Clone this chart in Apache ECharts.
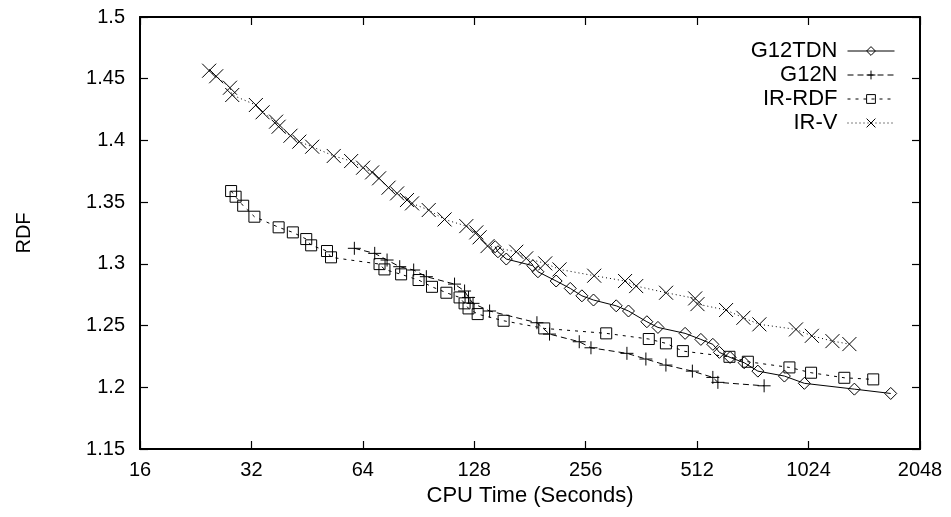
<!DOCTYPE html>
<html>
<head>
<meta charset="utf-8">
<script src="https://cdn.jsdelivr.net/npm/echarts@6/dist/echarts.min.js"></script>
<style>
  html, body { margin: 0; padding: 0; background: #fff; }
  #chart { width: 951px; height: 517px; }
</style>
</head>
<body>
<div id="chart"></div>
<script>
// values: [cpu seconds, RDF]
const g12tdn = [
  [145.8, 1.3139], [148.3, 1.3098], [156.2, 1.3039], [184.3, 1.2985], [190.2, 1.2936],
  [213, 1.2861], [232.5, 1.2801], [250, 1.2741], [268.7, 1.2707], [309.5, 1.266],
  [334, 1.2618], [374.5, 1.2531], [401.2, 1.2485], [475, 1.2437], [524, 1.2388],
  [564.5, 1.2348], [588, 1.2283], [628.5, 1.2242], [686, 1.2199], [747, 1.2131],
  [881, 1.2091], [997.6, 1.2032], [1361.6, 1.1985], [1707, 1.195]
];
const g12n = [
  [60.7, 1.3126], [68.9, 1.3085], [74.4, 1.3031], [80.5, 1.2977], [87.8, 1.295],
  [95.0, 1.2896], [113.2, 1.2836], [120.5, 1.278], [123.5, 1.2728], [127, 1.268],
  [140.8, 1.2618], [189, 1.2523], [204.4, 1.2431], [245.9, 1.2369], [264.5, 1.232],
  [330.8, 1.2275], [372.2, 1.2229], [421.6, 1.218], [497, 1.2131], [564.5, 1.208],
  [582.5, 1.204], [776.6, 1.2012]
];
const irRdf = [
  [28.2, 1.359], [29.0, 1.3544], [30.4, 1.3471], [32.6, 1.3382], [37.9, 1.3296],
  [41.4, 1.3255], [45.0, 1.3201], [46.4, 1.315], [51.2, 1.3104], [52.5, 1.3053],
  [71.0, 1.2998], [73.2, 1.2955], [81.2, 1.2915], [90.5, 1.2869], [98.4, 1.2814],
  [107.6, 1.2766], [116.8, 1.2728], [120.5, 1.268], [123.5, 1.2639], [130.7, 1.2593],
  [153.6, 1.2539], [197.8, 1.2477], [290.8, 1.2437], [379, 1.2391], [421.6, 1.2356],
  [468.5, 1.2293], [626, 1.2247], [701.8, 1.2207], [909, 1.2161], [1040, 1.2118],
  [1279, 1.2077], [1531, 1.2064]
];
const irV = [
  [24.6, 1.4565], [25.7, 1.452], [28.0, 1.4427], [28.4, 1.4368], [32.9, 1.4287],
  [34.3, 1.4228], [37.3, 1.4152], [37.9, 1.4111], [40.8, 1.4038], [43.1, 1.399],
  [46.7, 1.3949], [53.4, 1.3874], [59.5, 1.3833], [64.1, 1.3779], [67.8, 1.3741],
  [70.8, 1.3693], [75.1, 1.3617], [79.2, 1.3571], [84.2, 1.3517], [86.9, 1.349],
  [96.4, 1.3436], [106.4, 1.336], [121.8, 1.3306], [129.6, 1.3255], [132.3, 1.3215],
  [139, 1.3144], [166.2, 1.3098], [176.8, 1.3045], [199, 1.3004], [217.5, 1.2955],
  [269.9, 1.2904], [327, 1.2861], [350.4, 1.282], [422, 1.2766], [505.8, 1.272],
  [513, 1.2674], [613, 1.2626], [682.7, 1.2563], [754, 1.251], [947, 1.2469],
  [1045, 1.2417], [1188, 1.2374], [1320, 1.235]
];
const seriesNames = ['G12TDN', 'G12N', 'IR-RDF', 'IR-V'];

const FONT = 'Liberation Sans';
const chart = echarts.init(document.getElementById('chart'));

const axisLine = { show: true, lineStyle: { color: '#000', width: 2 } };
const tick = { show: true, inside: true, length: 8, lineStyle: { color: '#000', width: 1.2 } };
const labelStyle = { color: '#000', fontSize: 20, fontFamily: FONT };
const nameStyle = { color: '#000', fontSize: 22, fontFamily: FONT };

const plusPath = 'path://M5,0L5,10M0,5L10,5';
const crossPath = 'path://M0,0L10,10M10,0L0,10';

function lineSeries(name, data, symbol, size, dash) {
  return {
    name: name,
    type: 'line',
    data: data,
    symbol: symbol,
    symbolSize: size,
    showAllSymbol: true,
    animation: false,
    lineStyle: { color: '#000', width: 1, type: dash },
    itemStyle: { color: 'rgba(0,0,0,0)', borderColor: '#000', borderWidth: 1 },
    emphasis: { disabled: true }
  };
}

const option = {
  animation: false,
  grid: { left: 140, right: 31, top: 17, bottom: 68 },
  legend: seriesNames.map((n, i) => ({
    data: [n],
    orient: 'vertical',
    right: 56,
    top: 40 + i * 24,
    align: 'right',
    padding: 0,
    itemWidth: 47,
    itemHeight: 11,
    selectedMode: false,
    lineStyle: { width: 1 },
    itemStyle: { borderWidth: 1 },
    textStyle: { color: '#000', fontSize: 22, fontFamily: FONT, padding: [0, 5, 0, 0] }
  })),
  xAxis: [
    {
      type: 'log', logBase: 2, min: 16, max: 2048, interval: 1,
      position: 'bottom',
      name: 'CPU Time (Seconds)', nameLocation: 'middle', nameGap: 33,
      nameTextStyle: nameStyle,
      axisLine: axisLine, axisTick: tick, splitLine: { show: false },
      axisLabel: Object.assign({ margin: 11, formatter: v => String(Math.round(v)) }, labelStyle)
    },
    {
      type: 'log', logBase: 2, min: 16, max: 2048, interval: 1,
      position: 'top',
      axisLine: axisLine, axisTick: tick, splitLine: { show: false },
      axisLabel: { show: false }
    }
  ],
  yAxis: [
    {
      type: 'value', min: 1.15, max: 1.5, interval: 0.05,
      position: 'left',
      name: 'RDF', nameLocation: 'middle', nameGap: 106, nameRotate: 90,
      nameTextStyle: labelStyle,
      axisLine: axisLine, axisTick: tick, splitLine: { show: false },
      axisLabel: Object.assign({ margin: 15, formatter: v => String(+v.toFixed(2)) }, labelStyle)
    },
    {
      type: 'value', min: 1.15, max: 1.5, interval: 0.05,
      position: 'right',
      axisLine: axisLine, axisTick: tick, splitLine: { show: false },
      axisLabel: { show: false }
    }
  ],
  series: [
    lineSeries('G12TDN', g12tdn, 'diamond', 12, 'solid'),
    lineSeries('G12N', g12n, plusPath, 13, [6, 4]),
    lineSeries('IR-RDF', irRdf, 'rect', 11, [3, 5]),
    lineSeries('IR-V', irV, crossPath, 14, [1, 3])
  ]
};

chart.setOption(option);
</script>
</body>
</html>
